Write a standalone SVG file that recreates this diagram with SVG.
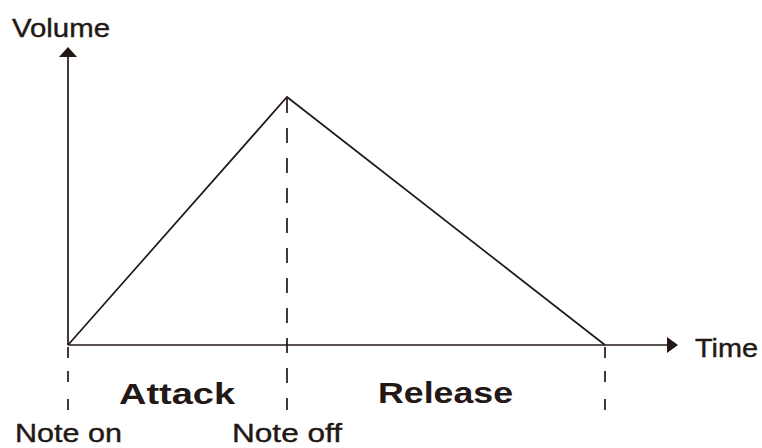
<svg xmlns="http://www.w3.org/2000/svg" width="762" height="448" viewBox="0 0 762 448">
<style>
.ln{stroke:#231815;stroke-width:1.7;fill:none}
.ds{stroke:#231815;stroke-width:1.7;fill:none}
.ah{fill:#231815}
.t{font-family:"Liberation Sans",Arial,sans-serif;font-size:26px;fill:#231815;stroke:#231815;stroke-width:0.4}
.b{font-family:"Liberation Sans",Arial,sans-serif;font-size:30px;font-weight:bold;fill:#231815}
</style>
<rect width="762" height="448" fill="#ffffff"/>
<g id="connectors">
<line class="ln" x1="68" y1="345" x2="68" y2="56"/>
<polygon class="ah" points="68,47 59,57 77,57"/>
<line class="ln" x1="68" y1="345" x2="668" y2="345"/>
<polygon class="ah" points="678,345 667,337 667,353"/>
<polyline class="ln" points="68,345 287,97 605,345"/>
<line class="ds" x1="287" y1="98" x2="287" y2="410" style="stroke-dasharray:15 15"/>
<line class="ds" x1="68" y1="347" x2="68" y2="410" style="stroke-dasharray:11 13 11 17 12"/>
<line class="ds" x1="605" y1="347" x2="605" y2="410" style="stroke-dasharray:11 13 11 17 12"/>
</g>
<g id="volume-label"><text class="t" x="12" y="37" textLength="98" lengthAdjust="spacingAndGlyphs">Volume</text></g>
<g id="time-label"><text class="t" x="695" y="357" textLength="63" lengthAdjust="spacingAndGlyphs">Time</text></g>
<g id="attack"><text class="b" x="119" y="404" textLength="116" lengthAdjust="spacingAndGlyphs">Attack</text></g>
<g id="release"><text class="b" x="378" y="403" textLength="135" lengthAdjust="spacingAndGlyphs">Release</text></g>
<g id="note-on"><text class="t" x="15" y="442" textLength="107" lengthAdjust="spacingAndGlyphs">Note on</text></g>
<g id="note-off"><text class="t" x="232" y="442" textLength="110" lengthAdjust="spacingAndGlyphs">Note off</text></g>
</svg>
